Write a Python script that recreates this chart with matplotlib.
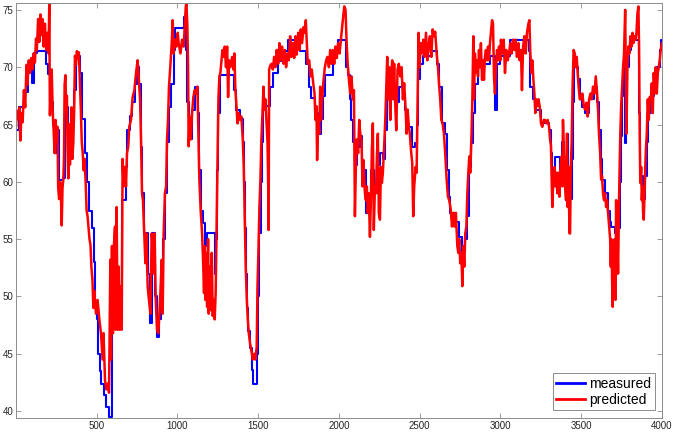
import matplotlib
matplotlib.use("Agg")
import matplotlib.pyplot as plt

plt.rcParams['font.family'] = ['Liberation Sans', 'DejaVu Sans']

# ---- predicted series (red) ----
pred_x = [1, 8, 15, 22, 28, 35, 42, 50, 58, 66, 72, 80, 87, 95, 102, 110, 118, 125, 130, 138,
          145, 152, 158, 165, 172, 180, 188, 195, 203, 207, 211, 216, 222, 228, 234, 240, 246, 252, 258, 262,
          268, 274, 280, 284, 289, 294, 298, 302, 307, 312, 316, 320, 325, 330, 335, 340, 345, 350, 356, 362,
          366, 372, 378, 384, 390, 396, 402, 408, 414, 420, 426, 432, 438, 444, 450, 456, 462, 468, 474, 480,
          486, 496, 506, 517, 527, 537, 543, 552, 560, 568, 577, 585, 589, 595, 601, 607, 614, 618, 624, 630,
          636, 643, 649, 655, 661, 667, 676, 682, 688, 696, 702, 713, 723, 734, 744, 754, 760, 769, 775, 781,
          787, 795, 802, 808, 816, 824, 833, 841, 847, 853, 859, 866, 874, 882, 888, 895, 903, 909, 915, 923,
          930, 936, 942, 948, 956, 965, 971, 977, 985, 994,
          1002, 1008, 1019, 1029, 1039, 1045, 1052, 1056, 1062, 1066, 1070, 1076, 1083, 1091, 1099, 1107, 1116, 1124, 1130, 1136,
          1145, 1153, 1159, 1165, 1169, 1173, 1180, 1184, 1190, 1194, 1200, 1206, 1213, 1219, 1225, 1231, 1237, 1242, 1248, 1254,
          1260, 1266, 1273, 1279, 1285, 1293, 1301, 1308, 1314, 1320, 1328, 1339, 1347, 1353, 1359, 1366, 1372, 1380, 1388, 1396,
          1405, 1411, 1417, 1423, 1430, 1436, 1442, 1450, 1458, 1467, 1475, 1483, 1491,
          1496, 1502, 1508, 1514, 1520, 1527, 1533, 1539, 1545, 1551, 1558, 1562, 1565, 1568, 1574, 1582, 1591, 1599, 1607, 1615,
          1624, 1632, 1640, 1648, 1657, 1665, 1673, 1682, 1690, 1698, 1706, 1715, 1723, 1731, 1739, 1748, 1756, 1764, 1772, 1781,
          1789, 1795, 1801, 1807, 1816, 1824, 1832, 1841, 1849, 1855, 1861, 1865, 1872, 1878, 1884, 1890, 1896, 1905, 1913, 1921,
          1929, 1938, 1946, 1954, 1962, 1971, 1979, 1987, 1995,
          2004, 2012, 2022, 2033, 2041, 2047, 2053, 2062, 2070, 2078, 2086, 2093, 2099, 2105, 2111, 2119, 2126, 2132, 2140, 2146,
          2152, 2161, 2167, 2173, 2179, 2185, 2192, 2198, 2204, 2210, 2216, 2223, 2229, 2235, 2241, 2247, 2254, 2260, 2266, 2272,
          2281, 2287, 2293, 2299, 2305, 2311, 2318, 2324, 2330, 2336, 2342, 2349, 2355, 2363, 2371, 2380, 2388, 2396, 2404, 2413,
          2419, 2425, 2433, 2439, 2446, 2454, 2460, 2466, 2475, 2481, 2487, 2493,
          2499, 2506, 2514, 2522, 2530, 2539, 2547, 2555, 2563, 2572, 2580, 2588, 2596, 2605, 2613, 2621, 2627, 2634, 2642, 2650,
          2658, 2667, 2675, 2683, 2692, 2700, 2708, 2716, 2724, 2733, 2739, 2745, 2751, 2758, 2764, 2770, 2776, 2782, 2789, 2795,
          2801, 2807, 2813, 2820, 2826, 2832, 2836, 2842, 2848, 2855, 2861, 2867, 2873, 2879, 2886, 2892, 2898, 2904, 2910, 2917,
          2923, 2929, 2935, 2941, 2948, 2954, 2960, 2966, 2972, 2979, 2985, 2991,
          2999, 3003, 3012, 3020, 3028, 3036, 3045, 3053, 3061, 3069, 3078, 3086, 3094, 3102, 3111, 3119, 3127, 3133, 3140, 3148,
          3156, 3164, 3173, 3179, 3185, 3191, 3197, 3204, 3210, 3216, 3222, 3228, 3235, 3243, 3251, 3259, 3268, 3276, 3284, 3292,
          3301, 3307, 3313, 3317, 3321, 3327, 3334, 3340, 3346, 3352, 3358, 3365, 3371, 3377, 3383, 3387, 3394, 3400, 3406, 3412,
          3416, 3422, 3427, 3431, 3435, 3441, 3447, 3453, 3460, 3466, 3472, 3478, 3484, 3491,
          3499, 3507, 3516, 3524, 3532, 3540, 3549, 3557, 3565, 3573, 3582, 3590, 3598, 3604, 3610, 3617, 3623, 3629, 3635, 3641,
          3648, 3654, 3660, 3666, 3672, 3679, 3683, 3687, 3691, 3695, 3699, 3703, 3707, 3712, 3716, 3720, 3724, 3728, 3734, 3741,
          3747, 3753, 3759, 3765, 3772, 3776, 3780, 3786, 3792, 3798, 3805, 3811, 3817, 3823, 3829, 3836, 3842, 3848, 3854, 3858,
          3862, 3866, 3871, 3875, 3879, 3883, 3887, 3893, 3900, 3906, 3912, 3918, 3924, 3931, 3937, 3943, 3949, 3955, 3961, 3968,
          3974, 3980, 3986, 3992, 3999]
pred_y = [64.8, 66.2, 65.5, 66.5, 63.6, 66.0, 65.2, 68.0, 66.5, 70.2, 68.5, 70.6, 69.5, 70.8, 69.8, 71.2, 70.4, 72.5, 71.5, 74.2,
          72.2, 74.6, 72.8, 74.2, 71.8, 73.8, 71.5, 73.0, 71.2, 75.6, 65.8, 68.5, 69.8, 66.2, 64.5, 62.5, 65.4, 63.5, 64.8, 59.5,
          58.5, 60.0, 58.3, 56.2, 59.5, 60.2, 62.0, 68.5, 69.3, 66.0, 67.5, 63.0, 60.3, 65.0, 61.5, 64.0, 66.5, 62.0, 63.5, 67.0,
          71.0, 70.2, 71.4, 70.8, 71.3, 69.0, 66.5, 63.5, 62.5, 61.0, 62.0, 60.0, 57.5, 57.0, 56.0, 55.0, 54.5, 52.5, 51.5, 49.0,
          50.5, 48.5, 49.7, 48.0, 46.8, 44.5, 46.8, 42.7, 41.9, 42.4, 41.6, 53.2, 44.5, 54.4, 46.8, 54.4, 56.1, 47.1, 57.8, 47.1,
          52.6, 47.1, 50.9, 47.1, 62.0, 59.6, 61.3, 59.6, 62.5, 63.1, 64.8, 65.4, 67.4, 68.0, 69.5, 70.6, 69.2, 67.2, 63.7, 59.0,
          58.4, 55.5, 52.9, 55.5, 50.9, 49.7, 48.5, 55.5, 54.4, 52.0, 55.5, 49.7, 47.1, 46.8, 48.3, 50.3, 53.2, 48.5, 55.5, 59.0,
          59.6, 63.7, 65.4, 68.3, 70.0, 72.1, 74.1, 71.2, 72.4, 71.8,
          73.0, 72.1, 71.2, 72.4, 71.8, 73.5, 75.3, 75.6, 73.5, 70.0, 63.1, 65.7, 63.7, 66.0, 67.4, 68.0, 67.7, 68.3, 64.2, 60.2,
          57.3, 55.5, 53.2, 50.3, 54.4, 49.7, 53.8, 49.1, 55.0, 48.5, 52.6, 48.8, 53.8, 48.3, 49.7, 48.0, 50.3, 55.5, 61.3, 67.2,
          69.2, 69.5, 70.6, 71.5, 70.9, 71.8, 70.0, 71.8, 67.4, 70.6, 70.0, 70.9, 69.8, 71.2, 68.0, 66.6, 65.1, 66.0, 65.4, 65.7,
          63.7, 61.3, 57.0, 52.6, 49.7, 48.0, 46.8, 45.9, 45.3, 44.5, 45.0, 44.5, 45.6,
          50.9, 54.1, 57.8, 60.2, 63.7, 66.0, 68.3, 66.3, 67.2, 65.4, 63.4, 60.0, 55.8, 69.8, 70.1, 70.3, 69.8, 70.9, 70.0, 71.5,
          70.3, 72.1, 70.6, 71.8, 70.3, 71.5, 70.0, 71.2, 70.6, 72.7, 70.9, 72.1, 70.8, 72.7, 71.1, 73.0, 71.5, 73.3, 72.1, 73.5,
          73.0, 74.1, 72.1, 70.3, 70.6, 69.2, 69.8, 68.6, 67.7, 65.4, 66.6, 61.9, 65.7, 64.2, 68.3, 65.4, 67.2, 68.9, 70.0, 70.6,
          70.9, 70.0, 71.5, 70.3, 71.5, 70.3, 71.8, 70.8, 72.1,
          71.2, 72.4, 73.8, 75.3, 75.0, 72.4, 70.6, 68.9, 67.7, 69.2, 67.2, 68.0, 57.0, 61.3, 63.7, 62.5, 65.4, 64.2, 63.7, 59.6,
          61.9, 59.0, 58.4, 59.6, 57.3, 59.0, 55.2, 58.4, 62.8, 65.1, 55.8, 59.6, 59.0, 62.2, 64.2, 57.3, 56.7, 61.3, 59.9, 60.8,
          63.4, 65.4, 68.3, 70.9, 67.2, 70.0, 65.4, 69.5, 70.6, 67.2, 70.3, 66.6, 64.5, 69.8, 70.3, 69.2, 70.0, 67.2, 68.6, 66.3,
          64.2, 66.3, 64.8, 64.2, 62.8, 61.6, 57.0, 59.6, 61.3, 60.8, 67.2, 73.0,
          70.0, 72.1, 71.2, 72.4, 70.9, 73.0, 70.6, 71.8, 72.7, 70.9, 73.3, 72.7, 73.1, 71.2, 70.0, 68.3, 67.2, 65.4, 65.1, 64.2,
          62.5, 60.2, 58.7, 58.4, 57.6, 56.1, 57.3, 56.1, 57.3, 54.4, 53.8, 55.0, 52.9, 53.8, 50.9, 54.4, 52.6, 55.5, 56.1, 59.0,
          60.8, 62.2, 60.8, 63.7, 67.2, 72.7, 67.2, 71.2, 69.5, 70.6, 69.2, 71.5, 70.0, 72.1, 68.9, 70.6, 68.9, 70.9, 71.5, 70.6,
          71.8, 70.6, 72.1, 73.0, 74.1, 73.8, 69.2, 67.7, 70.0, 71.5, 70.6, 71.8,
          70.6, 72.4, 71.2, 72.4, 69.5, 71.5, 70.6, 71.2, 72.1, 71.2, 72.4, 71.5, 72.4, 70.9, 72.1, 70.6, 71.5, 68.0, 71.8, 72.7,
          71.2, 73.0, 73.8, 74.1, 71.2, 69.5, 70.6, 68.9, 67.7, 66.0, 67.2, 66.6, 67.2, 66.6, 65.1, 64.8, 65.4, 65.4, 65.1, 65.4,
          64.8, 63.7, 63.1, 60.2, 57.8, 60.2, 61.3, 59.6, 60.8, 59.0, 60.8, 58.7, 61.0, 62.2, 59.6, 65.4, 61.9, 59.6, 58.4, 64.2,
          57.8, 61.3, 55.5, 55.5, 60.8, 63.7, 68.6, 71.5, 71.2, 70.0, 70.9, 69.5, 68.3, 67.2,
          67.2, 67.7, 66.6, 66.3, 66.9, 65.7, 67.2, 67.7, 67.2, 68.3, 67.7, 69.2, 67.7, 66.3, 64.2, 62.5, 60.2, 60.5, 59.0, 58.4,
          59.0, 57.8, 58.4, 57.3, 56.1, 55.0, 52.6, 55.0, 51.5, 49.1, 53.8, 50.3, 55.0, 49.7, 58.4, 52.0, 55.0, 52.0, 58.4, 63.7,
          66.6, 68.3, 70.0, 71.2, 75.0, 70.0, 64.2, 70.0, 71.8, 71.2, 72.7, 71.8, 73.0, 72.1, 72.7, 72.4, 73.0, 74.7, 75.3, 71.8,
          64.2, 59.9, 61.3, 58.4, 59.6, 57.3, 56.7, 59.6, 62.8, 64.2, 67.2, 65.4, 67.4, 67.2, 68.6, 66.0, 69.5, 67.7, 70.0, 67.7,
          69.5, 70.0, 70.6, 71.5, 72.1]

# ---- measured series (blue, piecewise constant) ----
meas_x = [1, 22, 50, 75, 97, 110, 128, 185, 198, 212, 228, 240, 255, 265, 290, 305, 320, 335, 350, 362,
          375, 395, 410, 428, 440, 455, 469, 482, 490, 500, 510, 518, 527, 548, 558, 579, 595, 660, 684, 690,
          704, 718, 735, 748, 765, 775, 782, 795, 818, 828, 840, 862, 872, 888, 900, 910, 925, 938, 948, 960,
          978, 985, 1040, 1052, 1062, 1070, 1090, 1107, 1128, 1136, 1145, 1160, 1173, 1185, 1230, 1240, 1248, 1254, 1262, 1318,
          1352, 1362, 1385, 1405, 1412, 1418, 1424, 1432, 1440, 1450, 1460, 1467, 1495, 1500, 1508, 1516, 1524, 1533, 1572, 1595,
          1620, 1660, 1686, 1760, 1795, 1812, 1828, 1850, 1870, 1888, 1900, 1913, 1965, 1995, 2045, 2055, 2066, 2074, 2090, 2100,
          2112, 2130, 2145, 2167, 2183, 2200, 2215, 2235, 2255, 2275, 2285, 2295, 2330, 2350, 2370, 2395, 2410, 2430, 2450, 2470,
          2484, 2490, 2500, 2520, 2575, 2605, 2620, 2638, 2658, 2672, 2682, 2690, 2720, 2741, 2762, 2780, 2795, 2803, 2815, 2830,
          2840, 2860, 2900, 2935, 2964, 2980, 3000, 3057, 3150, 3175, 3185, 3200, 3215, 3250, 3300, 3312, 3318, 3336, 3367, 3380,
          3395, 3410, 3420, 3430, 3440, 3448, 3455, 3478, 3490, 3505, 3521, 3549, 3565, 3582, 3600, 3610, 3620, 3630, 3645, 3665,
          3678, 3687, 3707, 3720, 3730, 3738, 3745, 3752, 3760, 3769, 3780, 3795, 3810, 3850, 3860, 3866, 3880, 3895, 3905, 3915,
          3930, 3950, 3970, 3985, 3992, 4000]
meas_y = [64.5, 66.5, 67.8, 69.8, 68.6, 71.2, 71.4, 70.3, 69.4, 67.0, 65.0, 62.5, 64.5, 60.2, 60.3, 66.5, 64.0, 63.0, 65.4, 68.0,
          71.0, 69.5, 65.5, 62.5, 60.0, 57.5, 56.0, 53.0, 49.0, 48.0, 45.0, 43.5, 42.4, 41.4, 40.4, 39.5, 47.5, 58.4, 61.3, 64.5,
          65.7, 67.0, 68.5, 70.0, 68.5, 63.0, 59.0, 55.5, 52.0, 47.7, 55.5, 50.0, 46.5, 48.0, 51.0, 55.0, 59.0, 63.5, 66.5, 68.5,
          71.5, 73.4, 74.4, 71.5, 67.0, 63.7, 66.3, 68.3, 66.0, 61.0, 57.5, 56.4, 54.4, 55.5, 52.0, 55.0, 61.0, 66.0, 69.3, 69.3,
          68.0, 66.3, 65.5, 63.5, 60.0, 56.0, 52.0, 49.0, 47.0, 45.5, 43.6, 42.4, 45.0, 50.0, 55.5, 60.0, 63.5, 66.6, 68.3, 69.5,
          70.5, 71.4, 72.4, 71.4, 70.3, 68.3, 67.3, 66.0, 64.2, 65.5, 67.5, 69.3, 71.4, 72.4, 70.0, 69.3, 67.2, 65.4, 63.5, 61.5,
          63.0, 64.0, 61.0, 57.3, 58.5, 61.0, 59.0, 61.5, 62.5, 62.0, 64.5, 68.0, 68.5, 67.0, 68.3, 67.3, 66.3, 64.8, 63.0, 63.4,
          65.0, 69.0, 70.3, 71.0, 71.4, 70.3, 68.3, 65.1, 64.2, 61.0, 58.7, 57.3, 56.5, 55.2, 54.0, 55.0, 57.0, 61.3, 63.4, 66.0,
          68.5, 70.0, 70.3, 71.0, 66.3, 70.3, 71.0, 72.4, 72.4, 71.4, 68.3, 67.2, 66.3, 65.1, 64.5, 62.5, 60.2, 62.2, 61.0, 63.5,
          62.2, 64.2, 60.0, 58.5, 62.0, 67.0, 70.0, 69.0, 67.5, 66.5, 66.0, 67.2, 67.2, 68.3, 67.0, 64.5, 62.0, 60.2, 59.0, 57.5,
          56.5, 56.1, 55.5, 54.0, 56.0, 60.0, 64.0, 67.5, 70.0, 63.4, 70.0, 71.5, 72.4, 72.4, 66.0, 60.5, 58.5, 60.5, 63.5, 66.0,
          67.5, 68.8, 70.0, 71.5, 72.4, 72.4]

x_ticks = [500, 1000, 1500, 2000, 2500, 3000, 3500, 4000]
y_ticks = [40, 45, 50, 55, 60, 65, 70, 75]
legend_labels = ['measured', 'predicted']

fig = plt.figure(figsize=(6.75, 4.34), dpi=100)
ax = fig.add_axes([16/675, 16/434, 646/675, 415/434])

ax.plot(meas_x, meas_y, color='#0000ff', lw=1.5, drawstyle='steps-post', label=legend_labels[0])
ax.plot(pred_x, pred_y, color='#ff0000', lw=1.8, label=legend_labels[1])

ax.set_xlim(1, 4000)
ax.set_ylim(39.4, 75.6)
ax.set_xticks(x_ticks)
ax.set_yticks(y_ticks)
ax.tick_params(direction='in', length=3.5, width=0.6, top=True, right=True,
               labelsize=7, colors='#8c8c8c', labelcolor='#262626', pad=2)
for s in ax.spines.values():
    s.set_color('#8c8c8c')
    s.set_linewidth(0.7)

leg = ax.legend(loc='lower right', bbox_to_anchor=(0.989, 0.019), borderaxespad=0,
                fontsize=10, fancybox=False, framealpha=1, edgecolor='#8c8c8c',
                handlelength=2.1, handletextpad=0.3, borderpad=0.25, labelspacing=0.15)
leg.get_frame().set_linewidth(0.7)
for l in leg.get_lines():
    l.set_linewidth(2)

fig.savefig('out.png', dpi=100)
